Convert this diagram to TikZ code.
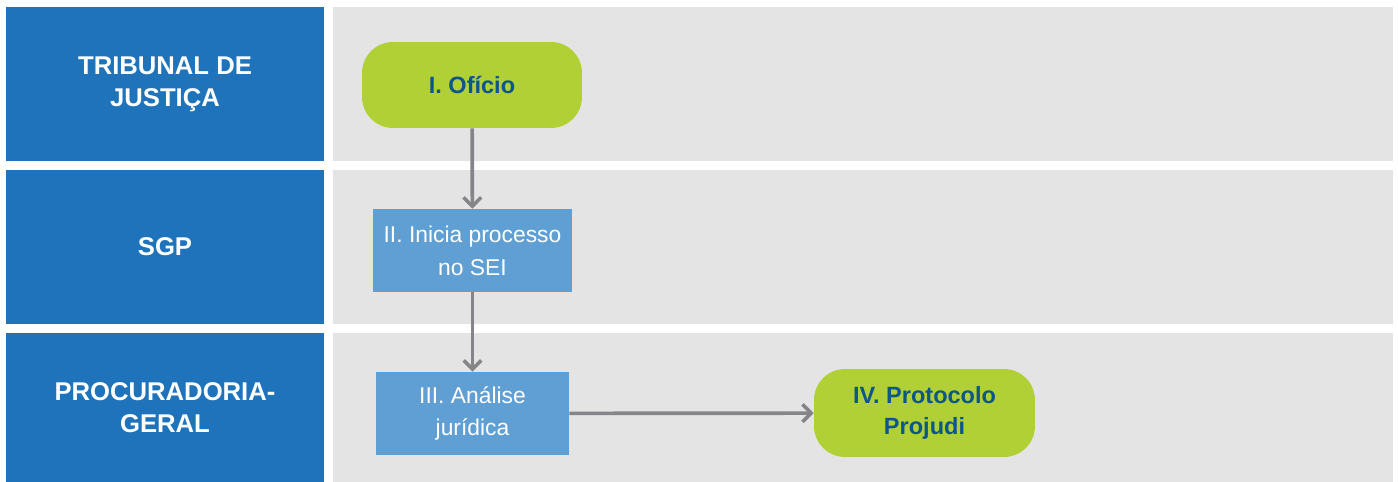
\documentclass[tikz,border=0pt]{standalone}
\usepackage{fontspec}
\setmainfont{Liberation Sans}
\usepackage{tikz}
\usetikzlibrary{arrows.meta,shapes,positioning}

\definecolor{lanehead}{RGB}{31,115,187}
\definecolor{laneback}{RGB}{228,228,228}
\definecolor{taskblue}{RGB}{96,159,211}
\definecolor{termgreen}{RGB}{176,208,54}
\definecolor{termtext}{RGB}{12,86,138}
\definecolor{flowgray}{RGB}{133,133,137}

\tikzset{
    lanebox/.style={rectangle, fill=lanehead, text=white, inner sep=0pt,
        minimum width=6.36cm, align=center,
        font=\bfseries\fontsize{14.6}{18.2}\selectfont},
    tarefa/.style={rectangle, fill=taskblue, text=white, inner sep=0pt,
        minimum height=1.66cm, align=center,
        font=\fontsize{13}{18.7}\selectfont},
    terminal/.style={rectangle, rounded corners=0.62cm, fill=termgreen,
        text=termtext, inner sep=0pt, align=center,
        font=\bfseries\fontsize{13.4}{17.6}\selectfont},
    fluxo/.style={draw=flowgray, line width=2.1pt,
        -{Straight Barb[length=5pt,width=10pt,line width=2pt]}}
}

\begin{document}
\begin{tikzpicture}[x=0.02cm, y=-0.02cm]
    \useasboundingbox (0,0) rectangle (1398,482);

    % raias
    \fill[laneback] (333,7) rectangle (1393,161);
    \fill[laneback] (333,170) rectangle (1393,324);
    \fill[laneback] (333,333) rectangle (1393,482);

    \node[lanebox, minimum height=3.08cm] (TJ) at (165,84) {TRIBUNAL DE\\JUSTIÇA};
    \node[lanebox, minimum height=3.08cm] (SGP) at (165,247) {SGP};
    \node[lanebox, minimum height=2.98cm] (PG) at (165,407.5) {PROCURADORIA-\\GERAL};

    % etapas
    \node[terminal, minimum width=4.4cm, minimum height=1.72cm] (OF) at (472,85) {I. Ofício};
    \node[tarefa, minimum width=3.98cm] (IP) at (472.5,250.5) {II. Inicia processo\\no SEI};
    \node[tarefa, minimum width=3.86cm] (AJ) at (472.5,413.5) {III. Análise\\jurídica};
    \node[terminal, minimum width=4.42cm, minimum height=1.76cm] (PP) at (924.5,413) {IV. Protocolo\\Projudi};

    \path[fluxo] (OF) edge (IP)
    (IP) edge (AJ)
    (AJ) edge (PP);
\end{tikzpicture}
\end{document}
